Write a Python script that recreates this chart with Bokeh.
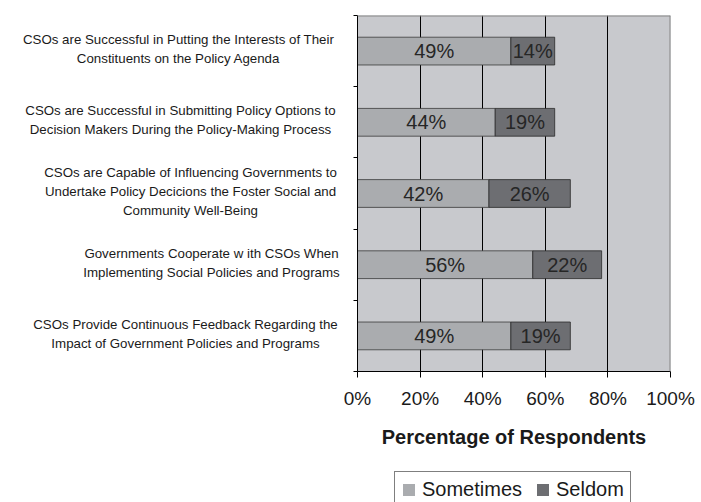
from bokeh.plotting import figure
from bokeh.layouts import row, column
from bokeh.models import (ColumnDataSource, LabelSet, Legend, LegendItem,
                          FixedTicker, Range1d, Span)
from bokeh.core.properties import value
from bokeh.embed import file_html
from bokeh.resources import INLINE

# Survey statements, top to bottom
statements = [
    "CSOs are Successful in Putting the Interests of Their\nConstituents on the Policy Agenda",
    "CSOs are Successful in Submitting Policy Options to\nDecision Makers During the Policy-Making Process",
    "CSOs are Capable of Influencing Governments to\nUndertake Policy Decicions the Foster Social and\nCommunity Well-Being",
    "Governments Cooperate w ith CSOs When\nImplementing Social Policies and Programs",
    "CSOs Provide Continuous Feedback Regarding the\nImpact of Government Policies and Programs",
]
sometimes = [49, 44, 42, 56, 49]
seldom = [14, 19, 26, 22, 19]
series_names = ["Sometimes", "Seldom"]
x_ticks = [0, 20, 40, 60, 80, 100]
x_tick_labels = ["0%", "20%", "40%", "60%", "80%", "100%"]
x_title = "Percentage of Respondents"

FONT = "Liberation Sans"
C_BG = "#c8c9cd"
C_SOMETIMES = "#aaacaf"
C_SELDOM = "#6d6e72"
C_TEXT = "#1a1a1a"

n = len(statements)
rows = list(range(n))
y_range = Range1d(n - 0.5, -0.5)

LEFT_W = 340           # width of the statement column
AXIS_PAD = 17          # room left of the plot frame for ticks and "0%"
TOP, BOTTOM = 15, 131  # frame margins shared by both upper panels
LEG_H = 47

src = ColumnDataSource(dict(
    y=rows,
    s_left=[0] * n,
    s_right=sometimes,
    d_left=sometimes,
    d_right=[a + b for a, b in zip(sometimes, seldom)],
    s_mid=[a / 2 for a in sometimes],
    d_mid=[a + b / 2 for a, b in zip(sometimes, seldom)],
    s_txt=[f"{v}%" for v in sometimes],
    d_txt=[f"{v}%" for v in seldom],
))

# ---- statement column -------------------------------------------------
lab = figure(width=LEFT_W, height=502, output_backend="svg", toolbar_location=None,
             x_range=Range1d(0, LEFT_W), y_range=y_range,
             min_border_left=0, min_border_right=0,
             min_border_top=TOP, min_border_bottom=BOTTOM,
             background_fill_color="white", border_fill_color="white")
lab.axis.visible = False
lab.grid.visible = False
lab.outline_line_color = None
lab_src = ColumnDataSource(dict(
    x=[178, 180, 190, 211, 185], y=rows, text=statements,
))
lab.text(x="x", y="y", text="text", source=lab_src, y_offset=-2,
         text_align="center", text_baseline="middle",
         text_font=value(FONT), text_font_size="13.3px",
         text_line_height=1.26, text_color=C_TEXT)

# ---- bar chart ----------------------------------------------------------
p = figure(width=701 - LEFT_W, height=502 - LEG_H, output_backend="svg",
           toolbar_location=None,
           x_range=Range1d(0, 100), y_range=y_range,
           min_border_left=AXIS_PAD, min_border_right=31,
           min_border_top=TOP, min_border_bottom=BOTTOM - LEG_H,
           background_fill_color=C_BG, border_fill_color="white")
p.outline_line_color = None

# vertical grid lines behind the bars
p.ygrid.visible = False
p.xgrid.ticker = FixedTicker(ticks=[20, 40, 60, 80])
p.xgrid.grid_line_color = "black"
p.xgrid.grid_line_width = 1

bar_h = 0.39
p.hbar(y="y", left="s_left", right="s_right", height=bar_h, source=src,
       fill_color=C_SOMETIMES, line_color="#3a3a3a", line_width=0.8)
p.hbar(y="y", left="d_left", right="d_right", height=bar_h, source=src,
       fill_color=C_SELDOM, line_color="#2a2a2a", line_width=0.8)

# frame edges on top and right
p.add_layout(Span(location=-0.5, dimension="width", line_color="#858585", line_width=2))
p.add_layout(Span(location=100, dimension="height", line_color="#858585", line_width=2))

# segment value labels
for xcol, tcol in (("s_mid", "s_txt"), ("d_mid", "d_txt")):
    p.add_layout(LabelSet(x=xcol, y="y", text=tcol, source=src,
                          text_align="center", text_baseline="middle",
                          text_font=value(FONT), text_font_size="20px",
                          text_color="#262626"))

# x axis
xa = p.xaxis[0]
xa.ticker = FixedTicker(ticks=x_ticks)
xa.major_label_overrides = {t: l for t, l in zip(x_ticks, x_tick_labels)}
xa.major_label_text_font = FONT
xa.major_label_text_font_size = "19px"
xa.major_label_text_color = C_TEXT
xa.major_label_standoff = 10
xa.major_tick_in = 0
xa.major_tick_out = 6
xa.minor_tick_line_color = None
xa.axis_line_color = "black"
xa.major_tick_line_color = "black"
xa.axis_label = x_title
xa.axis_label_text_font = FONT
xa.axis_label_text_font_style = "bold"
xa.axis_label_text_font_size = "20px"
xa.axis_label_text_color = C_TEXT
xa.axis_label_standoff = 14

# y axis: ticks at category boundaries only
ya = p.yaxis[0]
ya.ticker = FixedTicker(ticks=[i - 0.5 for i in range(n + 1)])
ya.major_label_text_font_size = "0px"
ya.major_label_text_color = None
ya.major_label_standoff = 0
ya.major_tick_in = 0
ya.major_tick_out = 4
ya.minor_tick_line_color = None
ya.axis_line_color = "black"
ya.major_tick_line_color = "black"

# ---- legend strip -------------------------------------------------------
lg = figure(width=701 - LEFT_W, height=LEG_H, output_backend="svg",
            toolbar_location=None,
            x_range=Range1d(0, 1), y_range=Range1d(0, 1),
            min_border_left=0, min_border_right=0,
            min_border_top=0, min_border_bottom=0,
            background_fill_color="white", border_fill_color="white")
lg.axis.visible = False
lg.grid.visible = False
lg.outline_line_color = None
# zero-length swatch renderers: only their legend entries are drawn
leg_s = lg.hbar(y=[0.5], left=[0], right=[0], height=0.0,
                fill_color=C_SOMETIMES, line_color=None)
leg_d = lg.hbar(y=[0.5], left=[0], right=[0], height=0.0,
                fill_color=C_SELDOM, line_color=None)
legend = Legend(items=[LegendItem(label=series_names[0], renderers=[leg_s]),
                       LegendItem(label=series_names[1], renderers=[leg_d])],
                location=(37, -6), orientation="horizontal",
                label_text_font=FONT, label_text_font_size="20px",
                label_text_color=C_TEXT,
                glyph_width=15, glyph_height=15, label_standoff=6,
                spacing=13, padding=6, margin=0,
                border_line_color="black", border_line_width=1,
                background_fill_color="white", background_fill_alpha=1)
lg.add_layout(legend)

layout = row(lab, column(p, lg))
open("out.html", "w").write(file_html(layout, INLINE))
